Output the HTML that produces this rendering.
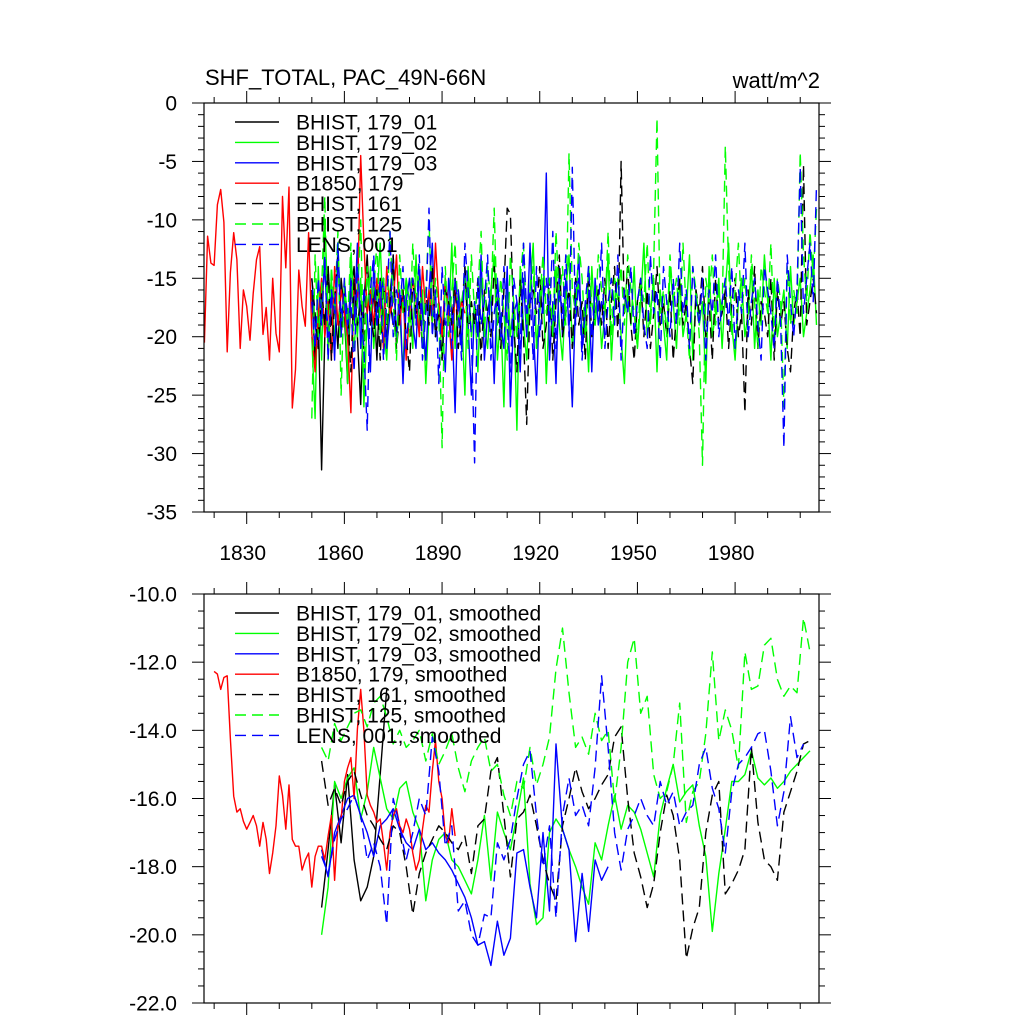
<!DOCTYPE html>
<html><head><meta charset="utf-8"><style>
html,body{margin:0;padding:0;background:#fff}
svg{display:block}
text{font-family:"Liberation Sans",sans-serif;fill:#000}
</style></head><body>
<svg id="chart" width="1024" height="1024" viewBox="0 0 1024 1024" xmlns="http://www.w3.org/2000/svg">
<rect width="1024" height="1024" fill="#fff"/>
<text x="205" y="85" font-size="22">SHF_TOTAL, PAC_49N-66N</text>
<text x="820" y="88" font-size="22" text-anchor="end">watt/m^2</text>
<g id="top"></g><g id="bot"></g>
</svg>
<script>
// ---- data ----
const topYears0 = 1850;
const redTopStart = 1817;
const redTop = [-20.5,-11.4,-13.7,-13.9,-8.7,-7.4,-10.2,-21.3,-14.5,-11.1,-13.4,-21.0,-16.0,-17.4,-20.3,-16.3,-13.4,-12.3,-19.8,-17.5,-22.0,-15.0,-19.7,-21.3,-8.0,-14.1,-7.2,-26.1,-22.8,-14.3,-17.4,-19.1,-11.1,-19.7,
-23,-18,-15,-20,-17,-22,-14,-19,-16,-18,-20,-26.5,-15,-17,-4.5,-12,-18,-16,-19,-15,-17,-21,-14,-18,-17,-13,-19,-16,-22,-18,-15,-17,-20,-14,-18,-16,-19,-12,-17,-20,-15,-18,-22,-16,-19,-17,-18];
const b01Top = [-16,-22,-18,-31.4,-20,-14,-19,-17,-21,-15,-18,-24,-16,-14,-20,-25.8,-17,-13,-19,-16,-22,-15,-18,-20,-17,-19];
const b03Top = [-15,-19,-21,-17,-14,-20,-16,-22,-13,-18,-17,-20,-15,-19,-12,-21,-16,-18,-23,-14,-19,-17,-15,-21,-18,-13,-20,-16,-24,-17,-15,-19,-21,-14,-18,-22,-16,-12,-20,-17,-19,-23,-15,-18,-26.5,-16,-21,-14,-19,-25,-17,-20,-13,-22,-18,-16,-24,-15,-19,-21,-14,-26,-18,-17,-23,-15,-20,-12,-19,-25,-16,-18,-6,-22,-17,-24,-14,-20,-15,-19,-26,-17,-13,-21,-18,-16,-23,-15,-19,-17,-20];
const b02Top = [-20,-27,-14,-22,-10,-18,-15,-21,-12,-19,-16,-24,-13,-17,-20,-15,-26,-18,-14,-21,-17,-12,-19,-22,-16,-14,-20,-18,-23,-15,-17,-21,-13,-19,-16,-24,-18,-14,-20,-17,-22,-15,-19,-12,-21,-16,-18,-25,-14,-20,-17,-23,-15,-19,-21,-16,-13,-22,-18,-26,-15,-20,-17,-28,-14,-19,-22,-16,-12,-21,-18,-15,-24,-17,-20,-14,-19,-22,-16,-13,-21,-18,-15,-20,-17,-23,-14,-19,-16,-21,-18,-13,-22,-17,-15,-20,-24,-16,-19,-14,-21,-17,-12,-20,-18,-15,-23,-16,-19,-22,-14,-17,-21,-15,-20,-18,-13,-22,-16,-19,-17,-24,-14,-20,-18,-15,-21,-16,-12,-19,-22,-17,-15,-20,-18,-14,-21,-16,-19,-13,-17,-22,-15,-20,-18,-16,-21,-14,-19,-17,-15,-20,-18,-16,-13,-19];
const b161Top = [-15,-18,-21,-16,-19,-14,-22,-17,-13,-20,-16,-18,-23,-15,-19,-17,-21,-14,-18,-20,-16,-22,-15,-19,-17,-13,-21,-18,-16,-20,-23,-15,-18,-17,-21,-16,-19,-14,-20,-18,-22,-16,-17,-19,-15,-21,-18,-14,-20,-17,-19,-15,-22,-16,-18,-20,-14,-17,-21,-16,-9,-9.5,-19,-23,-15,-20,-27.5,-17,-16,-18,-14,-21,-19,-15,-22,-17,-13,-20,-18,-16,-21,-15,-19,-17,-22,-14,-20,-18,-16,-19,-15,-21,-17,-14,-20,-5,-18,-14,-19,-22,-17,-15,-20,-16,-21,-18,-14,-19,-17,-20,-16,-22,-18,-15,-19,-17,-21,-24,-16,-18,-14,-20,-17,-22,-15,-19,-18,-16,-21,-17,-15,-20,-18,-26.5,-16,-19,-14,-21,-17,-18,-20,-15,-22,-16,-19,-17,-21,-23,-18,-16,-20,-5.3,-19,-17,-15,-18];
const b125Top = [-27,-13,-20,-16,-8,-22,-14,-18,-11,-25,-15,-19,-12,-21,-17,-10,-23,-14,-18,-16,-12,-20,-15,-19,-11,-17,-22,-13,-18,-15,-20,-12,-17,-14,-21,-16,-10,-19,-15,-18,-29.5,-14,-20,-16,-12,-19,-17,-15,-21,-13,-18,-16,-11,-20,-14,-17,-9,-19,-15,-18,-22,-13,-17,-20,-15,-12,-19,-16,-14,-21,-17,-13,-18,-15,-20,-11,-17,-14,-19,-4.3,-16,-18,-12,-15,-20,-14,-17,-19,-13,-16,-18,-11,-20,-15,-17,-14,-19,-13,-16,-18,-21,-15,-17,-12,-19,-14,-1.3,-18,-16,-20,-13,-17,-15,-19,-12,-18,-22,-14,-16,-20,-31,-15,-17,-13,-19,-16,-18,-3.7,-14,-20,-16,-12,-18,-15,-19,-13,-17,-21,-14,-16,-18,-12,-20,-15,-17,-26,-14,-19,-16,-18,-4.2,-13,-17,-11,-15,-9];
const lensTop = [-17,-21,-15,-19,-13,-22,-16,-18,-12,-20,-15,-19,-17,-23,-14,-18,-21,-28,-16,-13,-19,-15,-22,-17,-11,-20,-16,-18,-14,-21,-17,-15,-19,-13,-22,-18,-9,-20,-16,-24,-14,-19,-17,-21,-15,-18,-22,-12,-16,-20,-30.8,-15,-19,-17,-13,-22,-18,-16,-20,-14,-19,-23,-15,-17,-21,-12,-18,-16,-22,-14,-20,-17,-15,-19,-11,-21,-16,-18,-13,-20,-5.5,-19,-15,-22,-17,-14,-20,-16,-18,-12,-21,-17,-15,-19,-13,-22,-16,-18,-14,-20,-17,-15,-19,-21,-13,-18,-16,-22,-14,-17,-20,-15,-19,-12,-18,-16,-21,-14,-17,-19,-15,-22,-16,-18,-13,-20,-17,-15,-19,-14,-21,-16,-18,-12,-20,-17,-15,-19,-22,-14,-16,-18,-21,-15,-19,-29.5,-13,-17,-20,-16,-5.5,-18,-15,-12,-17,-7];

const botStart = 1853, botStep = 2;
const redBotStart = 1820;
const redBot = [-12.27,-12.35,-12.8,-12.45,-12.4,-14.26,-15.93,-16.4,-16.3,-16.67,-16.9,-16.7,-16.5,-16.8,-17.4,-16.7,-17.2,-18.2,-17.6,-16.8,-15.34,-15.9,-16.9,-15.6,-17.2,-17.4,-17.4,-18.1,-17.8,-17.6,-18.6,-17.7,-17.4,-17.4,-17.8,-17.1,-16.5,-18.4,-16.8,-16.6,-15.5,-15.1,-14.8,-16.0,-13.97,-12.8,-14.0,-15.9,-16.2,-16.4,-16.7,-16.6,-17.3,-18.1,-17.0,-16.5,-16.3,-16.8,-17.0,-16.6,-16.9,-17.6,-18.1,-17.8,-16.9,-16.2,-16.4,-15.2,-14.3,-15.5,-16.0,-17.1,-17.3,-16.3,-17.1];
const b01Bot = [-19.2,-17.5,-15.6,-17.3,-15.3,-17.8,-19.0,-18.6,-17.7,-15.3,-12.8];
const b03Bot = [-17.5,-18.3,-17.0,-16.5,-16.0,-15.9,-16.5,-17.0,-17.7,-16.8,-16.6,-16.3,-16.9,-17.3,-17.5,-16.9,-17.5,-17.3,-17.6,-17.8,-18.1,-18.5,-18.9,-19.5,-20.3,-20.2,-20.9,-19.6,-20.6,-20.1,-17.6,-17.5,-18.6,-19.5,-17.0,-19.3,-14.4,-16.9,-17.5,-20.2,-18.2,-19.9,-17.8,-18.4,-18.0];
const b02Bot = [-20.0,-18.6,-15.5,-16.0,-15.4,-15.1,-16.6,-15.8,-14.5,-15.4,-16.3,-16.6,-15.7,-15.5,-16.4,-16.9,-19.0,-17.8,-17.2,-17.0,-17.8,-18.0,-18.4,-18.8,-17.8,-16.5,-18.4,-16.4,-17.0,-17.5,-16.5,-15.4,-18.5,-19.7,-19.5,-17.0,-16.6,-16.9,-17.5,-18.0,-18.6,-19.1,-17.3,-17.8,-16.8,-15.9,-16.9,-16.2,-16.4,-16.9,-17.6,-18.3,-16.5,-15.7,-15.0,-16.1,-15.8,-15.6,-16.8,-17.7,-19.9,-18.2,-16.9,-15.5,-15.5,-15.3,-14.6,-15.4,-15.6,-15.4,-15.7,-15.5,-15.2,-15.0,-14.8,-14.6];
const b161Bot = [-14.9,-16.2,-15.7,-16.2,-15.5,-15.2,-15.9,-16.5,-16.8,-17.2,-17.5,-16.8,-17.0,-18.0,-19.4,-18.2,-17.6,-17.2,-16.8,-17.0,-17.3,-17.5,-17.1,-18.2,-16.8,-16.6,-15.2,-14.8,-16.5,-18.3,-16.6,-16.4,-15.9,-16.8,-17.8,-18.5,-19.0,-16.8,-16.0,-15.1,-15.8,-16.3,-16.0,-15.6,-15.3,-14.2,-13.9,-16.0,-17.6,-18.3,-19.2,-18.5,-17.0,-15.9,-16.5,-17.8,-20.7,-19.8,-19.2,-17.0,-15.9,-15.5,-18.8,-18.5,-18.1,-17.5,-14.5,-16.7,-17.8,-18.0,-18.4,-16.4,-15.8,-15.2,-14.4,-14.3];
const b125Bot = [-14.5,-14.9,-13.8,-14.3,-13.9,-13.5,-13.4,-13.9,-13.2,-13.0,-13.6,-14.4,-14.0,-14.5,-14.3,-14.0,-14.9,-14.1,-15.0,-14.6,-14.1,-15.1,-15.8,-14.9,-14.5,-14.2,-15.2,-15.0,-15.9,-16.5,-15.5,-15.7,-14.5,-15.6,-15.0,-14.2,-12.2,-11.0,-12.9,-14.5,-14.2,-14.7,-13.5,-14.3,-14.0,-16.1,-14.5,-12.0,-11.3,-13.5,-13.0,-15.3,-16.0,-15.8,-15.0,-13.2,-16.7,-15.8,-15.5,-14.1,-11.7,-14.3,-13.4,-14.0,-15.1,-11.7,-12.8,-12.7,-11.5,-11.3,-12.5,-13.0,-12.7,-12.9,-10.7,-11.7];
const lensBot = [-17.7,-18.2,-17.2,-16.6,-16.3,-15.9,-16.5,-17.8,-17.3,-18.0,-19.7,-16.0,-16.8,-17.8,-17.0,-16.0,-16.5,-14.2,-15.2,-17.4,-16.8,-19.3,-19.0,-20.0,-20.3,-19.4,-19.5,-17.3,-17.8,-17.2,-16.0,-15.0,-14.6,-16.5,-18.0,-16.8,-19.5,-16.5,-15.4,-16.5,-16.2,-16.8,-15.1,-12.4,-14.5,-17.0,-18.1,-16.9,-16.5,-16.0,-16.5,-16.8,-15.5,-16.2,-15.8,-16.8,-16.4,-16.2,-15.0,-14.5,-15.7,-16.3,-17.6,-15.8,-15.0,-14.8,-14.5,-14.1,-14.0,-15.2,-16.8,-15.8,-13.6,-14.8,-14.4];

const xTickYears = [1830,1860,1890,1920,1950,1980];
const topYTicks = [0,-5,-10,-15,-20,-25,-30,-35];
const botYTicks = [-10,-12,-14,-16,-18,-20,-22];
const topLegendLabels = ["BHIST, 179_01","BHIST, 179_02","BHIST, 179_03","B1850, 179","BHIST, 161","BHIST, 125","LENS, 001"];
const botLegendLabels = topLegendLabels.map(s=>s+", smoothed");

const L=204, R=819;
const xs = yr => 246.7 + (yr-1830)*3.256;
const panels = {
  top:{t:103,b:512,ymax:0,ymin:-35,major:5,minor:1,fmt:v=>String(v)},
  bot:{t:594,b:1003,ymax:-10,ymin:-22,major:2,minor:0.5,fmt:v=>v.toFixed(1)}
};
const NS="http://www.w3.org/2000/svg";
function el(tag,attrs,parent){const e=document.createElementNS(NS,tag);for(const k in attrs)e.setAttribute(k,attrs[k]);parent.appendChild(e);return e;}
const styles=[["#000",""],["#00ff00",""],["#0000ff",""],["#ff0000",""],["#000","11,6"],["#00ff00","11,6"],["#0000ff","11,6"]];
const seriesNames=["bhist-179-01","bhist-179-02","bhist-179-03","b1850-179","bhist-161","bhist-125","lens-001"];

function drawPanel(key, series, legendLabels, legendY0){
  const p=panels[key], g=document.getElementById(key);
  const ys=v=>p.t+(p.ymax-v)/(p.ymax-p.ymin)*(p.b-p.t);
  const clipId='clip-'+key;
  const cp=el('clipPath',{id:clipId},g);
  el('rect',{x:L,y:p.t,width:R-L,height:p.b-p.t},cp);
  const lines=el('g',{'clip-path':'url(#'+clipId+')'},g);
  
  
  series.forEach((s,i)=>{
    let d='';
    s.vals.forEach((v,j)=>{ if(v==null)return; const yr=s.start+j*s.step; d+=(d?'L':'M')+xs(yr).toFixed(1)+','+ys(v).toFixed(1);});
    const path=el('path',{d:d,fill:'none',stroke:styles[i][0],'stroke-width':1.4,'stroke-dasharray':styles[i][1]||'none','stroke-linejoin':'round'},lines);
    
    
  });
  const frame=el('rect',{x:L,y:p.t,width:R-L,height:p.b-p.t,fill:'none',stroke:'#000','stroke-width':1.2},g);
  
  
  const nMin=Math.round((p.ymax-p.ymin)/p.minor);
  for(let k=0;k<=nMin;k++){
    const v=p.ymax-k*p.minor, y=ys(v);
    const isMaj=Math.abs(v/p.major-Math.round(v/p.major))<1e-6;
    const len=isMaj?12:6;
    el('line',{x1:L-len,y1:y,x2:L,y2:y,stroke:'#000','stroke-width':1},g);
    el('line',{x1:R,y1:y,x2:R+len,y2:y,stroke:'#000','stroke-width':1},g);
  }
  const yt=key==='top'?topYTicks:botYTicks;
  yt.forEach(v=>{
    const t=el('text',{x:177,y:ys(v)+7.5,'font-size':21,'text-anchor':'end'},g);
    t.textContent=p.fmt(v);
    
    
  });
  for(let yr=1820;yr<=2000;yr+=10){
    const x=xs(yr), isMaj=xTickYears.includes(yr), len=isMaj?12:6;
    el('line',{x1:x,y1:p.b,x2:x,y2:p.b+len,stroke:'#000','stroke-width':1},g);
    el('line',{x1:x,y1:p.t-len,x2:x,y2:p.t,stroke:'#000','stroke-width':1},g);
  }
  if(key==='top'){
    xTickYears.forEach(yr=>{
      const t=el('text',{x:xs(yr)-4,y:560,'font-size':21,'text-anchor':'middle'},g);
      t.textContent=String(yr);
      
      
    });
  }
  legendLabels.forEach((lab,i)=>{
    const y=legendY0+i*20.4;
    const ln=el('line',{x1:235,y1:y,x2:279,y2:y,stroke:styles[i][0],'stroke-width':1.4,'stroke-dasharray':styles[i][1]||'none'},g);
    
    
    const t=el('text',{x:296,y:y+7.5,'font-size':21},g);
    t.textContent=lab;
    
    
  });
}
drawPanel('top',[
  {start:topYears0,step:1,vals:b01Top},
  {start:topYears0,step:1,vals:b02Top},
  {start:topYears0,step:1,vals:b03Top},
  {start:redTopStart,step:1,vals:redTop},
  {start:topYears0,step:1,vals:b161Top},
  {start:topYears0,step:1,vals:b125Top},
  {start:topYears0,step:1,vals:lensTop}
],topLegendLabels,122);
drawPanel('bot',[
  {start:botStart,step:botStep,vals:b01Bot},
  {start:botStart,step:botStep,vals:b02Bot},
  {start:botStart,step:botStep,vals:b03Bot},
  {start:redBotStart,step:1,vals:redBot},
  {start:botStart,step:botStep,vals:b161Bot},
  {start:botStart,step:botStep,vals:b125Bot},
  {start:botStart,step:botStep,vals:lensBot}
],botLegendLabels,613);
</script>
</body></html>
